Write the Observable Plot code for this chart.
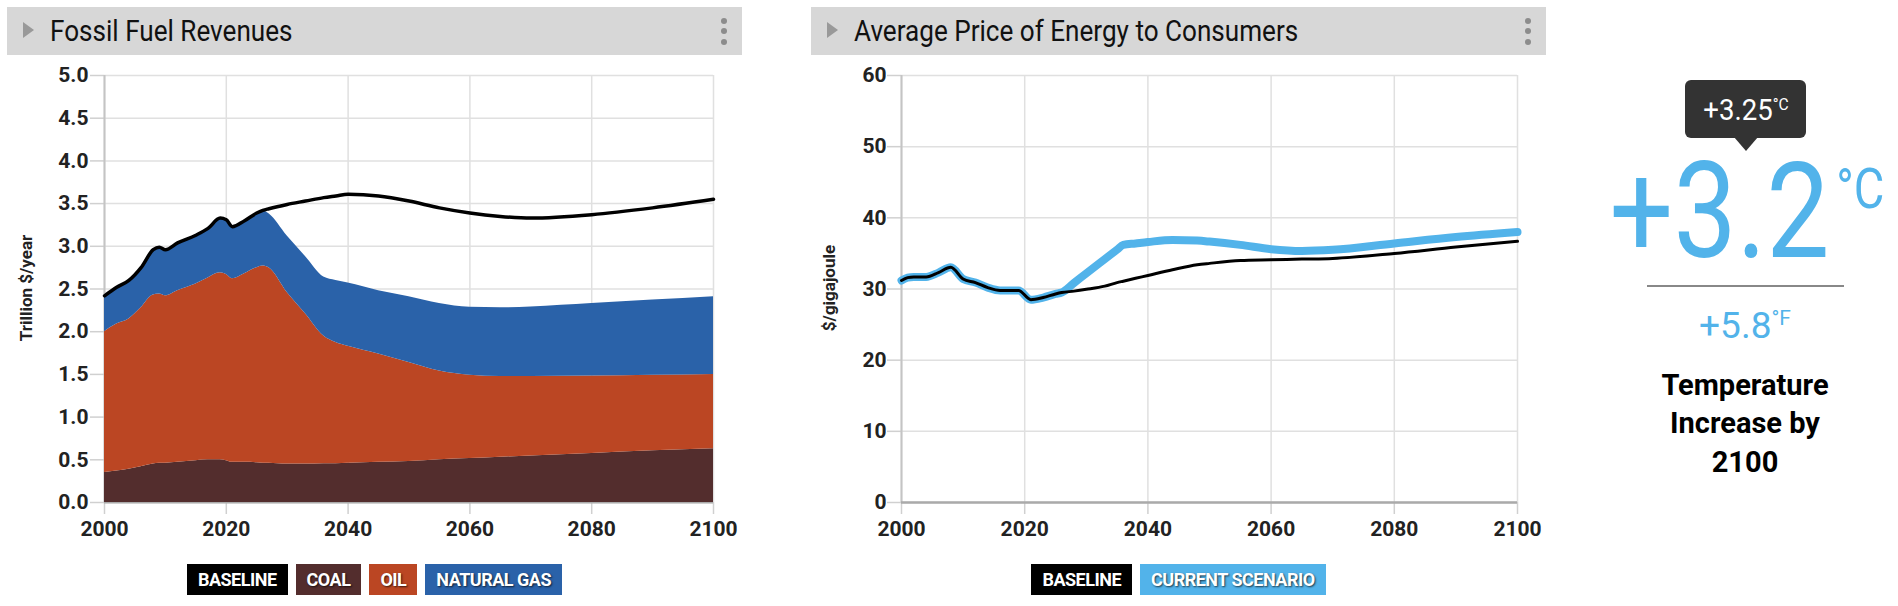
<!DOCTYPE html>
<html><head><meta charset="utf-8">
<script src="https://cdn.jsdelivr.net/npm/d3@7"></script>
<script src="https://cdn.jsdelivr.net/npm/@observablehq/plot@0.6"></script>
<style>
body{margin:0;background:#fff;font-family:Roboto,"Noto Sans",sans-serif;}
#root{position:relative;width:1898px;height:606px;overflow:hidden;}
.hdr{position:absolute;top:7px;height:48px;width:735px;background:#d7d7d7;}
.hdr .tri{position:absolute;left:16px;top:15px;width:0;height:0;border-left:11px solid #999;border-top:8px solid transparent;border-bottom:8px solid transparent;}
.hdr .ttl{position:absolute;left:43px;top:0;line-height:48px;font-size:30px;color:#111;transform:scaleX(0.87);transform-origin:left center;white-space:nowrap;}
.hdr .dot{position:absolute;left:714px;width:6px;height:6px;border-radius:50%;background:#8c8c8c;}
.plot{position:absolute;top:60px;}
.ylab{position:absolute;top:288px;transform:translate(-50%,-50%) rotate(-90deg);font-size:17px;font-weight:700;color:#222;white-space:nowrap;line-height:1;}
.legend{position:absolute;top:564px;display:flex;gap:8px;justify-content:center;}
.legend span{display:block;height:31px;line-height:32px;padding:0 11px;color:#fff;font-weight:700;font-size:18px;letter-spacing:-0.5px;text-shadow:1px 1px 2px rgba(0,0,0,.7);}
#temp{position:absolute;left:1560px;top:0;}
</style></head>
<body><div id="root"></div>
<script>
// ---- Fossil fuel revenues (trillion $/year) ----
const revYears = [2000,2002,2004,2006,2008,2009,2010,2012,2015,2017,2019,2020,2021,2023,2025,2026,2027,2030,2033,2036,2038,2040,2045,2050,2055,2060,2065,2070,2080,2090,2100];
const coal = [.35,.37,.39,.42,.45,.46,.46,.47,.49,.50,.50,.49,.47,.47,.465,.46,.46,.45,.45,.455,.455,.46,.47,.48,.50,.515,.53,.545,.575,.605,.63];
const oil = [1.65,1.72,1.76,1.86,1.98,1.98,1.96,2.01,2.07,2.13,2.19,2.18,2.15,2.21,2.285,2.31,2.29,2.01,1.76,1.495,1.42,1.37,1.27,1.16,1.04,0.975,0.945,0.93,0.905,0.885,0.87];
const gas = [0.42,0.43,0.45,0.47,0.53,0.55,0.54,0.56,0.57,0.58,0.64,0.64,0.61,0.62,0.64,0.65,0.63,0.66,0.67,0.69,0.725,0.74,0.74,0.77,0.79,0.795,0.805,0.815,0.85,0.88,0.91];
const baselineRev = [2.42,2.52,2.60,2.75,2.96,2.99,2.96,3.04,3.13,3.21,3.33,3.31,3.23,3.30,3.39,3.42,3.44,3.49,3.53,3.57,3.59,3.61,3.59,3.53,3.45,3.39,3.35,3.33,3.37,3.45,3.55];
const fuels = ["Coal","Oil","Natural Gas"];
const fuelColors = ["#532d2d","#bb4623","#2a62a9"];
const revTicks = [0,0.5,1,1.5,2,2.5,3,3.5,4,4.5,5];

// ---- Average price of energy ($/gigajoule) ----
const priceYears = [2000,2001,2002,2004,2006,2008,2010,2012,2014,2016,2019,2021,2023,2025,2026,2028,2030,2033,2035,2036,2038,2040,2044,2048,2050,2055,2060,2065,2070,2080,2090,2100];
const priceBaseline = [31.2,31.6,31.7,31.7,32.3,33.05,31.4,30.9,30.2,29.8,29.8,28.5,28.8,29.3,29.5,29.7,29.95,30.4,30.9,31.1,31.5,31.9,32.7,33.4,33.6,34.0,34.1,34.2,34.3,35.0,35.9,36.7];
const priceScenario = [31.2,31.6,31.7,31.7,32.3,33.05,31.4,30.9,30.2,29.8,29.8,28.5,28.8,29.3,29.5,30.84,32.2,34.2,35.53,36.2,36.4,36.6,36.9,36.8,36.66,36.2,35.6,35.35,35.5,36.4,37.3,38.0];
const priceTicks = [0,10,20,30,40,50,60];
const yearTicks = [2000,2020,2040,2060,2080,2100];

// temperature panel
const tempC = "+3.2", tempTip = "+3.25", tempF = "+5.8";
const tempLabel = ["Temperature","Increase by","2100"];

const root = document.getElementById("root");

function header(left, title) {
  const h = document.createElement("div");
  h.className = "hdr"; h.style.left = left + "px";
  h.innerHTML = `<div class="tri"></div><div class="ttl">${title}</div>` +
    [13.7,24,34.7].map(t => `<div class="dot" style="top:${t-3}px"></div>`).join("");
  root.appendChild(h);
}
header(7, "Fossil Fuel Revenues");
header(811, "Average Price of Energy to Consumers");

function ylabel(left, text) {
  const d = document.createElement("div");
  d.className = "ylab"; d.style.left = left + "px"; d.textContent = text;
  root.appendChild(d);
}
ylabel(25.5, "Trillion $/year");
ylabel(828.5, "$/gigajoule");

const axisFont = {fontSize: 21, fontWeight: 700, fill: "#222"};

// tidy stacked data
const revTidy = [];
revYears.forEach((y, i) => {
  revTidy.push({year: y, fuel: "Coal", value: coal[i]});
  revTidy.push({year: y, fuel: "Oil", value: oil[i]});
  revTidy.push({year: y, fuel: "Natural Gas", value: gas[i]});
});

const p1 = Plot.plot({
  width: 740, height: 500,
  marginLeft: 104, marginRight: 27, marginTop: 15, marginBottom: 58,
  style: {fontFamily: "Roboto", overflow: "visible"},
  x: {domain: [2000, 2100]},
  y: {domain: [0, 5]},
  color: {domain: fuels, range: fuelColors},
  marks: [
    Plot.gridY(revTicks, {stroke: "#e0e0e0", strokeOpacity: 1, strokeWidth: 1.5}),
    Plot.gridX(yearTicks, {stroke: "#e0e0e0", strokeOpacity: 1, strokeWidth: 1.5}),
    Plot.axisY(revTicks, {tickSize: 14, tickPadding: 2, stroke: "#d0d0d0", strokeWidth: 1.5, ...axisFont, tickFormat: d => d.toFixed(1), label: null}),
    Plot.axisX(yearTicks, {tickSize: 12, tickPadding: 7, stroke: "#d0d0d0", strokeWidth: 1.5, ...axisFont, tickFormat: d => String(d), label: null}),
    Plot.ruleX([2000], {stroke: "#c4c4c4", strokeWidth: 2}),
    Plot.ruleY([0], {stroke: "#aaa", strokeWidth: 2}),
    Plot.areaY(revTidy, {x: "year", y: "value", z: "fuel", fill: "fuel", order: fuels, curve: "monotone-x"}),
    Plot.lineY(baselineRev, {x: revYears, stroke: "#000", strokeWidth: 3.5, curve: "monotone-x"})
  ]
});
p1.classList.add("plot"); p1.style.left = "0px";
root.appendChild(p1);

const p2 = Plot.plot({
  width: 740, height: 500,
  marginLeft: 101, marginRight: 23, marginTop: 15, marginBottom: 58,
  style: {fontFamily: "Roboto", overflow: "visible"},
  x: {domain: [2000, 2100]},
  y: {domain: [0, 60]},
  marks: [
    Plot.gridY(priceTicks, {stroke: "#e0e0e0", strokeOpacity: 1, strokeWidth: 1.5}),
    Plot.gridX(yearTicks, {stroke: "#e0e0e0", strokeOpacity: 1, strokeWidth: 1.5}),
    Plot.axisY(priceTicks, {tickSize: 14, tickPadding: 1, stroke: "#d0d0d0", strokeWidth: 1.5, ...axisFont, tickFormat: d => String(d), label: null}),
    Plot.axisX(yearTicks, {tickSize: 12, tickPadding: 7, stroke: "#d0d0d0", strokeWidth: 1.5, ...axisFont, tickFormat: d => String(d), label: null}),
    Plot.ruleX([2000], {stroke: "#c4c4c4", strokeWidth: 2}),
    Plot.ruleY([0], {stroke: "#aaa", strokeWidth: 2.5}),
    Plot.lineY(priceScenario, {x: priceYears, stroke: "#52b3ea", strokeWidth: 8, curve: "monotone-x"}),
    Plot.lineY(priceBaseline, {x: priceYears, stroke: "#000", strokeWidth: 3, curve: "monotone-x"})
  ]
});
p2.classList.add("plot"); p2.style.left = "800px";
root.appendChild(p2);

function legend(left, width, items) {
  const l = document.createElement("div");
  l.className = "legend"; l.style.left = left + "px"; l.style.width = width + "px";
  l.innerHTML = items.map(([t, c]) => `<span style="background:${c}">${t}</span>`).join("");
  root.appendChild(l);
}
legend(0, 749, [["BASELINE", "#000"], ["COAL", fuelColors[0]], ["OIL", fuelColors[1]], ["NATURAL GAS", fuelColors[2]]]);
legend(811, 735, [["BASELINE", "#000"], ["CURRENT SCENARIO", "#52b3ea"]]);

// temperature panel (static text)
const cx = 1746 - 1560;
const svg = d3.select(root).append("svg").attr("id", "temp").attr("width", 338).attr("height", 606)
  .style("font-family", "Roboto");
svg.append("rect").attr("x", 125).attr("y", 80).attr("width", 121).attr("height", 58).attr("rx", 6).attr("fill", "#333");
svg.append("path").attr("d", `M${cx-12},137 L${cx+12},137 L${cx},151 Z`).attr("fill", "#333");
const tip = svg.append("text").attr("transform", `translate(${cx},120) scale(0.92,1)`).attr("text-anchor", "middle").attr("fill", "#fff");
tip.append("tspan").attr("font-size", 30).text(tempTip);
tip.append("tspan").attr("font-size", 17).attr("dy", -10).text("°C");
const big = svg.append("text").attr("transform", `translate(${cx+1},257) scale(0.84,1)`).attr("text-anchor", "middle").attr("fill", "#52b3ea");
big.append("tspan").attr("font-size", 134).text(tempC);
big.append("tspan").attr("font-size", 56).attr("dx", 8).attr("dy", -49).text("°C");
svg.append("line").attr("x1", 87).attr("x2", 284).attr("y1", 286).attr("y2", 286).attr("stroke", "#888").attr("stroke-width", 2);
const f = svg.append("text").attr("x", cx - 1).attr("y", 338).attr("text-anchor", "middle").attr("fill", "#52b3ea");
f.append("tspan").attr("font-size", 37).text(tempF);
f.append("tspan").attr("font-size", 21).attr("dy", -13).text("°F");
tempLabel.forEach((t, i) => {
  svg.append("text").attr("x", cx - 1).attr("y", [395, 433, 472][i]).attr("text-anchor", "middle")
    .attr("font-size", 29).attr("font-weight", 700).attr("fill", "#000").text(t);
});
</script></body></html>
